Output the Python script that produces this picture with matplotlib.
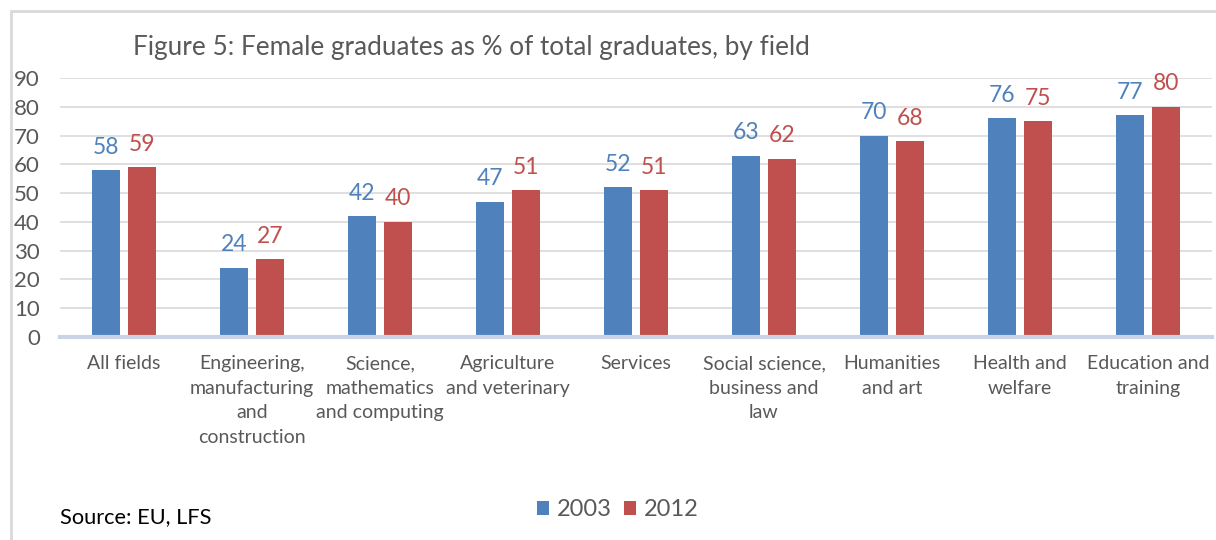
import numpy as np
import matplotlib.pyplot as plt
from matplotlib.patches import Rectangle

# data
fields = ["All fields",
          "Engineering,\nmanufacturing\nand\nconstruction",
          "Science,\nmathematics\nand computing",
          "Agriculture\nand veterinary",
          "Services",
          "Social science,\nbusiness and\nlaw",
          "Humanities\nand art",
          "Health and\nwelfare",
          "Education and\ntraining"]
values_2003 = [58, 24, 42, 47, 52, 63, 70, 76, 77]
values_2012 = [59, 27, 40, 51, 51, 62, 68, 75, 80]
years = ["2003", "2012"]
y_ticks = [0, 10, 20, 30, 40, 50, 60, 70, 80, 90]

BLUE = "#4F81BD"
RED = "#C0504D"
GREY_TEXT = "#595959"

plt.rcParams['font.family'] = ['Lato', 'DejaVu Sans']


def draw_chart():
    """
    Build the grouped bar chart and save it as out.png
    """
    fig = plt.figure(figsize=(12.16, 5.4), dpi=100)
    ax = fig.add_axes([60 / 1216, 1 - 337 / 540, 1152 / 1216, 259 / 540])

    x = np.arange(len(fields))
    width = 0.22
    offset = 0.14
    bars_a = ax.bar(x - offset, values_2003, width, color=BLUE, label=years[0], zorder=3)
    bars_b = ax.bar(x + offset, values_2012, width, color=RED, label=years[1], zorder=3)

    # value labels above each bar
    for bars, color in ((bars_a, BLUE), (bars_b, RED)):
        for bar in bars:
            ax.annotate(f"{bar.get_height():.0f}",
                        (bar.get_x() + bar.get_width() / 2, bar.get_height()),
                        xytext=(0, 9), textcoords="offset points",
                        ha="center", va="bottom", fontsize=16.5, color=color)

    ax.set_xlim(-0.5, len(fields) - 0.5)
    ax.set_ylim(0, 90)
    ax.set_yticks(y_ticks)
    ax.set_xticks(x)
    ax.set_xticklabels(fields, linespacing=1.55)
    ax.tick_params(axis="y", length=0, labelsize=16, labelcolor=GREY_TEXT, pad=14.5)
    ax.tick_params(axis="x", length=0, labelsize=14, labelcolor=GREY_TEXT, pad=13)

    ax.grid(axis="y", color="#D9D9D9", linewidth=1.2, zorder=0)
    for side in ("top", "right", "left"):
        ax.spines[side].set_visible(False)
    ax.spines["bottom"].set_color("#C9D5E6")
    ax.spines["bottom"].set_linewidth(3)
    ax.spines["bottom"].set_zorder(4)

    fig.text(133 / 1216, 1 - 47 / 540,
             "Figure 5: Female graduates as % of total graduates, by field",
             fontsize=18.8, color=GREY_TEXT, ha="left", va="center")
    fig.text(60 / 1216, 1 - 517 / 540, "Source: EU, LFS",
             fontsize=15.7, color="black", ha="left", va="center")

    fig.legend(loc="center", bbox_to_anchor=(618 / 1216, 1 - 510 / 540), ncol=2,
               frameon=False, fontsize=17, handlelength=0.5, handleheight=0.5,
               handletextpad=0.35, columnspacing=0.5, labelcolor=GREY_TEXT)

    # chart frame, only the left and top edges fall inside the picture
    fig.patches.append(Rectangle((11 / 1216, -0.1), 1.2, 1.1 - 11 / 540,
                                 transform=fig.transFigure, fill=False,
                                 edgecolor="#D9D9D9", linewidth=2))

    fig.savefig("out.png", dpi=100)


draw_chart()
